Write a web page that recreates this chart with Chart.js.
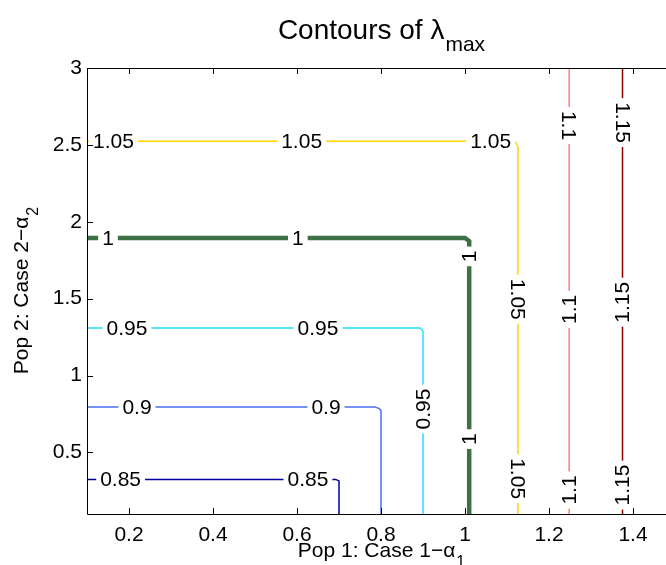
<!DOCTYPE html>
<html>
<head>
<meta charset="utf-8">
<script src="https://cdn.jsdelivr.net/npm/chart.js@4/dist/chart.umd.min.js"></script>
<style>
  html, body { margin: 0; padding: 0; background: #fff; overflow: hidden; }
</style>
</head>
<body>
<canvas id="chart" width="666" height="565"></canvas>
<script>
// axis ticks
const xTicks = [0.2, 0.4, 0.6, 0.8, 1, 1.2, 1.4];
const yTicks = [0.5, 1, 1.5, 2, 2.5, 3];

// contour levels and their paths [x, y]
const levels = ['0.85', '0.9', '0.95', '1', '1.05', '1.1', '1.15'];
const c085 = [[0.1, 0.325], [0.692, 0.325], [0.7, 0.315], [0.7, 0.1]];
const c090 = [[0.1, 0.795], [0.785, 0.795], [0.795, 0.787], [0.8, 0.772], [0.8, 0.1]];
const c095 = [[0.1, 1.31], [0.893, 1.31], [0.9, 1.29], [0.9, 0.1]];
const c100 = [[0.1, 1.895], [1.0, 1.895], [1.01, 1.875], [1.01, 0.1]];
const c105 = [[0.1, 2.524], [1.118, 2.524], [1.126, 2.49], [1.126, 0.1]];
const c110 = [[1.248, 0.1], [1.248, 3]];
const c115 = [[1.375, 0.1], [1.375, 3]];

// inline contour labels [x, y, turn]  (0 flat, 1 clockwise, -1 counter-clockwise)
const l085 = [[0.18, 0.325, 0], [0.626, 0.325, 0]];
const l090 = [[0.219, 0.795, 0], [0.669, 0.795, 0]];
const l095 = [[0.195, 1.31, 0], [0.65, 1.31, 0], [0.9, 0.782, -1]];
const l100 = [[0.15, 1.895, 0], [0.602, 1.895, 0], [1.01, 1.775, -1], [1.01, 0.587, -1]];
const l105 = [[0.163, 2.524, 0], [0.611, 2.524, 0], [1.061, 2.524, 0], [1.126, 1.496, 1], [1.126, 0.33, 1]];
const l110 = [[1.248, 2.626, 1], [1.248, 1.431, -1], [1.248, 0.256, -1]];
const l115 = [[1.375, 2.645, 1], [1.375, 1.477, -1], [1.375, 0.288, -1]];

const paths = [c085, c090, c095, c100, c105, c110, c115];
const labelSets = [l085, l090, l095, l100, l105, l110, l115];
const colors = ['#00009c', '#4a6ff0', '#22e0ff', '#3d7344', '#ffd400', '#ff7f6e', '#8c0000'];
const widths = [1.5, 1.5, 1.5, 4.5, 1.5, 1.5, 1.5];

const FONT = '"Liberation Sans", Arial, Helvetica, sans-serif';

const contourLabels = {
  id: 'contourLabels',
  afterDatasetsDraw(chart) {
    const { ctx, scales: { x, y }, chartArea } = chart;
    ctx.save();
    ctx.beginPath();
    ctx.rect(chartArea.left, chartArea.top, chartArea.right - chartArea.left, chartArea.bottom - chartArea.top);
    ctx.clip();
    ctx.font = '21px ' + FONT;
    ctx.textAlign = 'center';
    ctx.textBaseline = 'middle';
    labelSets.forEach((set, i) => {
      set.forEach(([vx, vy, turn]) => {
        const px = x.getPixelForValue(vx);
        const py = y.getPixelForValue(vy);
        const w = ctx.measureText(levels[i]).width;
        ctx.save();
        ctx.translate(px, py);
        ctx.rotate(turn * Math.PI / 2);
        ctx.fillStyle = '#fff';
        ctx.fillRect(-w / 2 - 4, -9, w + 8, 18);
        ctx.fillStyle = '#000';
        ctx.fillText(levels[i], 0, 1);
        ctx.restore();
      });
    });
    ctx.restore();
  }
};

const frame = {
  id: 'frame',
  afterDraw(chart) {
    const { ctx, scales: { x, y }, chartArea: a } = chart;
    ctx.save();
    ctx.strokeStyle = '#000';
    ctx.lineWidth = 1;
    ctx.beginPath();
    ctx.moveTo(a.right, a.top + 0.5);
    ctx.lineTo(a.left + 0.5, a.top + 0.5);
    ctx.lineTo(a.left + 0.5, a.bottom + 0.5);
    ctx.lineTo(a.right, a.bottom + 0.5);
    xTicks.forEach(v => {
      const px = Math.round(x.getPixelForValue(v)) + 0.5;
      ctx.moveTo(px, a.bottom); ctx.lineTo(px, a.bottom - 6);
      ctx.moveTo(px, a.top); ctx.lineTo(px, a.top + 6);
    });
    yTicks.forEach(v => {
      const py = Math.round(y.getPixelForValue(v)) + 0.5;
      ctx.moveTo(a.left, py); ctx.lineTo(a.left + 6, py);
    });
    ctx.stroke();

    // title with subscript
    ctx.fillStyle = '#000';
    ctx.textBaseline = 'alphabetic';
    const cx = (a.left + x.getPixelForValue(1.5)) / 2;
    ctx.font = '28px ' + FONT;
    const tMain = 'Contours of \u03bb';
    const tw = ctx.measureText(tMain).width;
    ctx.font = '21px ' + FONT;
    const sw = ctx.measureText('max').width;
    let sx = cx - (tw + sw) / 2;
    ctx.font = '28px ' + FONT;
    ctx.textAlign = 'left';
    ctx.fillText(tMain, sx, 39);
    ctx.font = '21px ' + FONT;
    ctx.fillText('max', sx + tw + 1, 51);

    // x axis title
    ctx.font = '21px ' + FONT;
    const xMain = 'Pop 1: Case 1\u2212\u03b1';
    const xw = ctx.measureText(xMain).width;
    ctx.font = '16px ' + FONT;
    const xs = ctx.measureText('1').width;
    sx = cx - (xw + xs) / 2;
    ctx.font = '21px ' + FONT;
    ctx.fillText(xMain, sx, 557);
    ctx.font = '16px ' + FONT;
    ctx.fillText('1', sx + xw + 1, 567);

    // y axis title (rotated)
    const cy = (a.top + a.bottom) / 2;
    ctx.save();
    ctx.translate(28, cy);
    ctx.rotate(-Math.PI / 2);
    ctx.font = '21px ' + FONT;
    const yMain = 'Pop 2: Case 2\u2212\u03b1';
    const yw = ctx.measureText(yMain).width;
    ctx.font = '16px ' + FONT;
    const ys = ctx.measureText('2').width;
    sx = -(yw + ys) / 2;
    ctx.font = '21px ' + FONT;
    ctx.fillText(yMain, sx, 0);
    ctx.font = '16px ' + FONT;
    ctx.fillText('2', sx + yw + 1, 10);
    ctx.restore();
    ctx.restore();
  }
};

new Chart(document.getElementById('chart'), {
  type: 'scatter',
  data: {
    datasets: paths.map((p, i) => ({
      label: levels[i],
      data: p.map(([x, y]) => ({ x, y })),
      showLine: true,
      borderColor: colors[i],
      backgroundColor: colors[i],
      borderWidth: widths[i],
      pointRadius: 0,
      tension: 0,
    })),
  },
  options: {
    responsive: false,
    devicePixelRatio: 1,
    animation: false,
    layout: { padding: { top: 68, right: 0, left: 0, bottom: 0 } },
    plugins: {
      legend: { display: false },
      tooltip: { enabled: false },
    },
    scales: {
      x: {
        type: 'linear',
        min: 0.1,
        max: 0.1 + 579 / 420,
        afterBuildTicks: s => { s.ticks = xTicks.map(v => ({ value: v })); },
        afterFit: s => { s.height = 51; },
        grid: { display: false, drawTicks: false },
        border: { display: false },
        ticks: {
          color: '#000',
          font: { size: 21, family: FONT },
          padding: 9,
          maxRotation: 0,
          callback: v => String(v),
        },
      },
      y: {
        type: 'linear',
        min: 0.1,
        max: 3,
        afterBuildTicks: s => { s.ticks = yTicks.map(v => ({ value: v })); },
        afterFit: s => { s.width = 87; },
        grid: { display: false, drawTicks: false },
        border: { display: false },
        ticks: {
          color: '#000',
          font: { size: 21, family: FONT },
          padding: 5,
          callback: v => String(v),
        },
      },
    },
  },
  plugins: [contourLabels, frame],
});
</script>
</body>
</html>
